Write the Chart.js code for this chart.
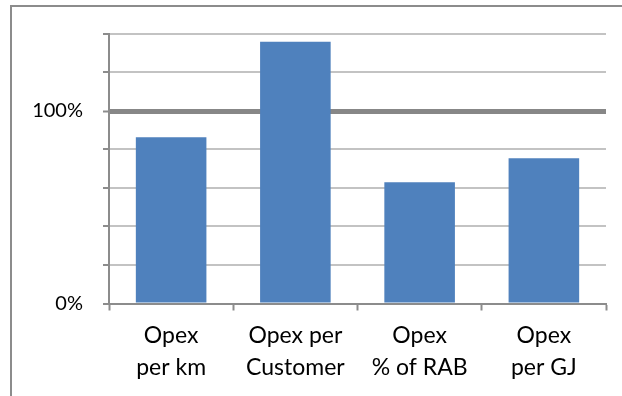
<!DOCTYPE html>
<html>
<head>
<meta charset="utf-8">
<script src="https://cdn.jsdelivr.net/npm/chart.js@4"></script>
<style>
  html, body { margin: 0; padding: 0; background: #ffffff; }
  #wrap { position: relative; width: 622px; height: 396px; }
</style>
</head>
<body>
<div id="wrap"><canvas id="c" width="622" height="396"></canvas></div>
<script>
// Opex benchmarks relative to the reference level (1.0 = 100%)
const categories = [
  ['Opex', 'per km'],
  ['Opex per', 'Customer'],
  ['Opex', '% of RAB'],
  ['Opex', 'per GJ']
];
const ratios = [0.863, 1.36, 0.63, 0.754];
const labelledTicks = [0, 1];   // only these levels carry a text label
const referenceLevel = 1;       // drawn as the heavy line

const FONT = 'Lato, "Liberation Sans", sans-serif';

// Outer frame of the chart object
const framePlugin = {
  id: 'frame',
  beforeDraw(chart) {
    const ctx = chart.ctx;
    ctx.save();
    ctx.strokeStyle = '#8c8c8c';
    ctx.lineWidth = 2;
    ctx.beginPath();
    ctx.moveTo(11, 400);
    ctx.lineTo(11, 6);
    ctx.lineTo(630, 6);
    ctx.stroke();
    ctx.restore();
  }
};

new Chart(document.getElementById('c'), {
  type: 'bar',
  data: {
    labels: categories,
    datasets: [{
      data: ratios,
      backgroundColor: '#4f81bd',
      borderWidth: 0,
      barPercentage: 1,
      categoryPercentage: 0.568
    }]
  },
  options: {
    responsive: false,
    animation: false,
    devicePixelRatio: 1,
    layout: { padding: { top: 34, right: 16, left: 0, bottom: 0 } },
    plugins: { legend: { display: false }, tooltip: { enabled: false } },
    scales: {
      x: {
        afterFit(scale) { scale.height = 92.5; },
        grid: {
          offset: true,
          drawOnChartArea: false,
          drawTicks: true,
          tickLength: 7,
          tickColor: '#8c8c8c',
          tickWidth: 2
        },
        border: { display: true, color: '#8c8c8c', width: 2 },
        ticks: {
          color: '#000000',
          padding: 9,
          font: { family: FONT, size: 23, lineHeight: 1.4 },
          maxRotation: 0,
          autoSkip: false
        }
      },
      y: {
        min: 0,
        max: 1.4,
        afterFit(scale) { scale.width = 109; },
        afterBuildTicks(scale) {
          scale.ticks = [0, 0.2, 0.4, 0.6, 0.8, 1.0, 1.2, 1.4].map(v => ({ value: v }));
        },
        grid: {
          color: ctx => (Math.abs(ctx.tick.value - referenceLevel) < 1e-9 ? '#878787' : '#c3c3c3'),
          lineWidth: ctx => (Math.abs(ctx.tick.value - referenceLevel) < 1e-9 ? 5 : 2),
          tickLength: 6,
          tickColor: '#8c8c8c',
          tickWidth: 2
        },
        border: { display: true, color: '#8c8c8c', width: 2 },
        ticks: {
          color: '#000000',
          padding: 20,
          font: { family: FONT, size: 20 },
          callback: v => (labelledTicks.some(t => Math.abs(t - v) < 1e-9) ? Math.round(v * 100) + '%' : '')
        }
      }
    }
  },
  plugins: [framePlugin]
});
</script>
</body>
</html>
